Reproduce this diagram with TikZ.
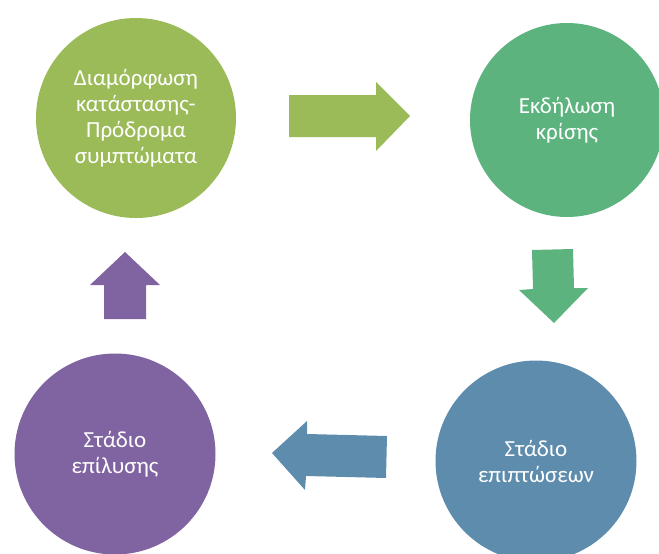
\documentclass[tikz,border=0pt]{standalone}
\usepackage{fontspec}
\setmainfont{Carlito}
\definecolor{cA}{RGB}{155,187,89}
\definecolor{cB}{RGB}{93,179,126}
\definecolor{cC}{RGB}{94,140,173}
\definecolor{cD}{RGB}{128,100,162}
\tikzset{
  stage/.style={circle, minimum size=200pt, inner sep=0pt, text=white, align=center,
    font=\fontsize{23}{26}\selectfont}
}
\begin{document}
\begin{tikzpicture}[x=1pt,y=-1pt]
\useasboundingbox (0,0) rectangle (659,554);
\node[stage, fill=cA] (s1) at (136,118) {Διαμόρφωση\\κατάστασης-\\Πρόδρομα\\συμπτώματα};
\node[stage, fill=cB, minimum size=194pt] (s2) at (567,120) {Εκδήλωση\\κρίσης};
\node[stage, fill=cC, minimum size=201pt] (s3) at (536,461) {Στάδιο\\επιπτώσεων};
\node[stage, fill=cD, minimum size=201pt] (s4) at (115,454) {Στάδιο\\επίλυσης};
% block arrows
\fill[cA] (289,95) -- (376,95) -- (376,82) -- (410,116) -- (376,151) -- (376,137) -- (289,137) -- cycle;
\fill[cB] (532,250) -- (573,249) -- (574,288) -- (588,288) -- (554,323) -- (519,290) -- (533,289) -- cycle;
\fill[cC] (387,436) -- (307,434) -- (307,421) -- (272,453) -- (305,490) -- (306,476) -- (386,478) -- cycle;
\fill[cD] (104,319) -- (104,285) -- (90,285) -- (125,252) -- (160,285) -- (146,285) -- (146,319) -- cycle;
\end{tikzpicture}
\end{document}
